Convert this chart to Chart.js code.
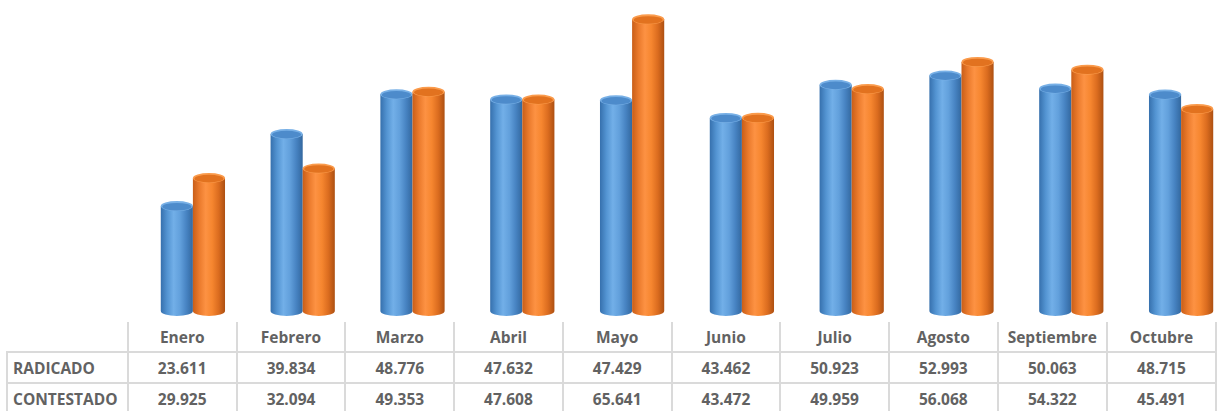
<!DOCTYPE html>
<html>
<head>
<meta charset="utf-8">
<script src="https://cdn.jsdelivr.net/npm/chart.js@4.4.1/dist/chart.umd.min.js"></script>
<style>
  html, body { margin: 0; padding: 0; background: #fff; width: 1217px; height: 411px; overflow: hidden; position: relative; }
  #wrap { position: absolute; left: 0; top: 0; width: 1240px; height: 320px; }
  #grid { position: absolute; left: 6px; top: 322px; border-collapse: collapse; table-layout: fixed;
          font-family: "Open Sans", sans-serif; font-weight: bold; font-size: 15.5px; color: #626262; }
  #grid td { border: 2px solid #dadada; height: 29px; padding: 0; text-align: center; white-space: nowrap; overflow: hidden; }
  #grid td.lbl { text-align: left; padding-left: 5px; }
  #grid tr.head td { border-top: none; }
  #grid tr.head td.blank { border-left: none; }
</style>
</head>
<body>
<div id="wrap"><canvas id="c" width="1240" height="320"></canvas></div>
<table id="grid"></table>
<script>
const months = ['Enero','Febrero','Marzo','Abril','Mayo','Junio','Julio','Agosto','Septiembre','Octubre'];
const radicado = [23.611, 39.834, 48.776, 47.632, 47.429, 43.462, 50.923, 52.993, 50.063, 48.715];
const contestado = [29.925, 32.094, 49.353, 47.608, 65.641, 43.472, 49.959, 56.068, 54.322, 45.491];
const seriesNames = ['RADICADO', 'CONTESTADO'];

// data table under the bars
(function(){
  const t = document.getElementById('grid');
  const cg = document.createElement('colgroup');
  let html = '<col style="width:121px">';
  months.forEach(() => html += '<col style="width:109.5px">');
  cg.innerHTML = html;
  t.appendChild(cg);
  const fmt = v => v.toFixed(3);
  let rows = '<tr class="head"><td class="blank"></td>' + months.map(m => '<td>' + m + '</td>').join('') + '</tr>';
  [radicado, contestado].forEach((arr, i) => {
    rows += '<tr><td class="lbl">' + seriesNames[i] + '</td>' + arr.map(v => '<td>' + fmt(v) + '</td>').join('') + '</tr>';
  });
  t.insertAdjacentHTML('beforeend', rows);
})();

const palettes = [
  { stops: ['#3670ad', '#5394d2', '#72afe8', '#62a0dc', '#4783c2', '#33689f'], top: '#4d8bcb', rim: '#78b0e6' },
  { stops: ['#c95e18', '#ea7a2c', '#fd9243', '#f6862f', '#db6c1f', '#ad5012'], top: '#e2721f', rim: '#fa9b4c' }
];

// draws each bar as a 3D-looking cylinder using the bar element geometry
const cylinders = {
  id: 'cylinders',
  afterDatasetsDraw(chart) {
    const ctx = chart.ctx;
    chart.data.datasets.forEach((ds, di) => {
      const meta = chart.getDatasetMeta(di);
      const pal = palettes[di];
      meta.data.forEach(bar => {
        const rx = bar.width / 2, ry = 5;
        const left = bar.x - rx, right = bar.x + rx;
        const g = ctx.createLinearGradient(left, 0, right, 0);
        pal.stops.forEach((c, k) => g.addColorStop(k / (pal.stops.length - 1), c));
        ctx.save();
        ctx.fillStyle = g;
        ctx.beginPath();
        ctx.moveTo(left, bar.y);
        ctx.lineTo(left, bar.base);
        ctx.ellipse(bar.x, bar.base, rx, ry, 0, Math.PI, 0, true);
        ctx.lineTo(right, bar.y);
        ctx.closePath();
        ctx.fill();
        // top cap
        ctx.beginPath();
        ctx.ellipse(bar.x, bar.y, rx, ry, 0, 0, Math.PI * 2);
        ctx.fillStyle = pal.rim;
        ctx.fill();
        ctx.beginPath();
        ctx.ellipse(bar.x, bar.y + 0.6, rx - 1.5, ry - 1.2, 0, 0, Math.PI * 2);
        ctx.fillStyle = pal.top;
        ctx.fill();
        ctx.restore();
      });
    });
  }
};

new Chart(document.getElementById('c'), {
  type: 'bar',
  data: {
    labels: months,
    datasets: [
      { label: seriesNames[0], data: radicado, backgroundColor: 'rgba(0,0,0,0)' },
      { label: seriesNames[1], data: contestado, backgroundColor: 'rgba(0,0,0,0)' }
    ]
  },
  options: {
    responsive: false,
    animation: false,
    layout: { padding: { left: 138, right: 4, top: 0, bottom: 9 } },
    datasets: { bar: { categoryPercentage: 0.585, barPercentage: 1 } },
    plugins: { legend: { display: false }, tooltip: { enabled: false } },
    scales: {
      x: { display: false },
      y: { display: false, min: 0, max: 70 }
    }
  },
  plugins: [cylinders]
});
</script>
</body>
</html>
